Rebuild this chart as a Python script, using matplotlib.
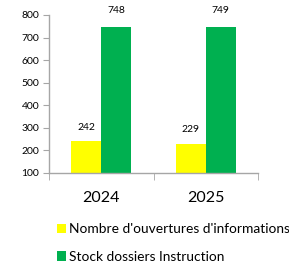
import matplotlib
matplotlib.use("Agg")
import matplotlib.pyplot as plt
from matplotlib.patches import Patch
import numpy as np

categories = ["2024", "2025"]
series_names = ["Nombre d'ouvertures d'informations", "Stock dossiers Instruction"]
ouvertures = [242, 229]
stock = [748, 749]
yticks = [100, 200, 300, 400, 500, 600, 700, 800]

plt.rcParams['font.family'] = ['Lato', 'DejaVu Sans']

fig = plt.figure(figsize=(2.89, 2.70), dpi=100)
ax = fig.add_axes([49/289, 1-173/270, (258-49)/289, (173-15)/270])

x = np.arange(len(categories))
w = 0.286
yellow = "#FFFF00"
green = "#00B050"
ax.bar(x - w/2, ouvertures, w, bottom=0, color=yellow)
ax.bar(x + w/2, stock, w, bottom=0, color=green)

for xi, v in zip(x, ouvertures):
    ax.annotate(str(v), (xi - w/2, v), xytext=(0, 10), textcoords="offset points",
                ha="center", va="center", fontsize=7.5)
for xi, v in zip(x, stock):
    ax.annotate(str(v), (xi + w/2, v), xytext=(0, 11.5), textcoords="offset points",
                ha="center", va="center", fontsize=7.5, annotation_clip=False)

ax.set_xlim(-0.5, len(categories) - 0.5)
ax.set_ylim(100, 800)
ax.set_yticks(yticks)
ax.tick_params(axis="y", labelsize=7.5, length=4, color="#A6A6A6", pad=3)
ax.set_xticks(x)
ax.set_xticklabels(categories, fontsize=11.5)
ax.tick_params(axis="x", length=0, pad=13)
ax.set_xticks(np.arange(-0.5, len(categories), 1.0), minor=True)
ax.tick_params(axis="x", which="minor", length=5, color="#A6A6A6")
for s in ["top", "right"]:
    ax.spines[s].set_visible(False)
for s in ["left", "bottom"]:
    ax.spines[s].set_color("#A6A6A6")
    ax.spines[s].set_linewidth(1.0)

handles = [Patch(facecolor=yellow, edgecolor="none"), Patch(facecolor=green, edgecolor="none")]
fig.legend(handles, series_names, loc="upper left", bbox_to_anchor=(57/289, 1-223/270),
           frameon=False, fontsize=9.9, handlelength=0.65, handleheight=0.65,
           handletextpad=0.2, labelspacing=1.15, borderpad=0, borderaxespad=0)

fig.savefig("out.png", dpi=100)
